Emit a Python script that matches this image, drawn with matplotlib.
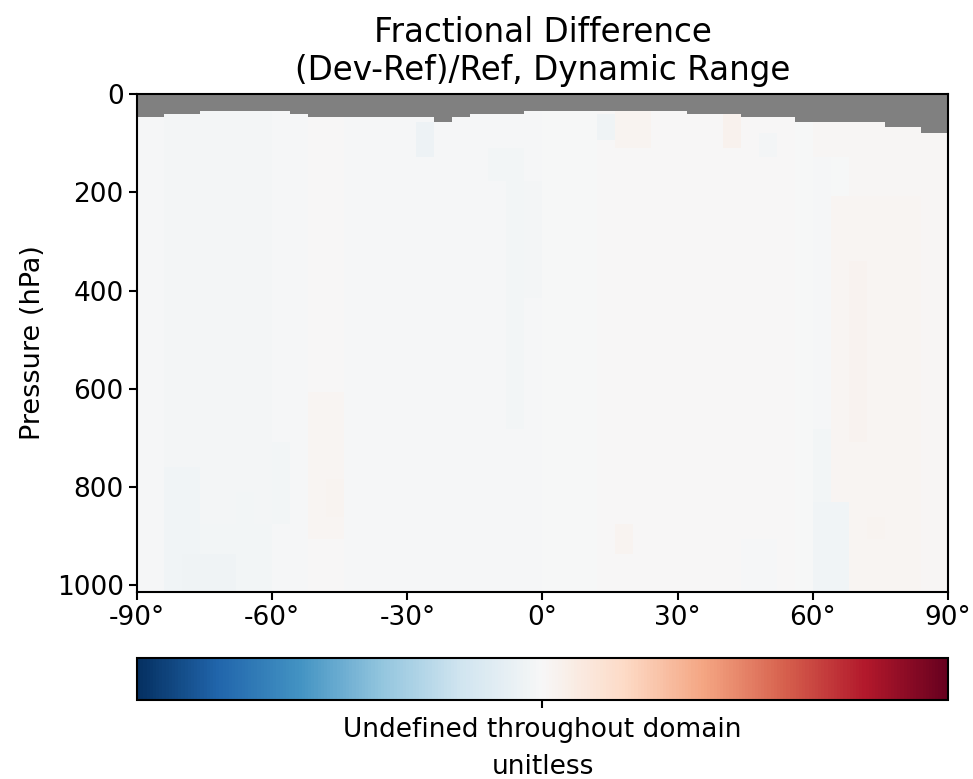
import numpy as np
import matplotlib
matplotlib.use("Agg")
import matplotlib.pyplot as plt
from matplotlib.colors import Normalize
from matplotlib.cm import ScalarMappable

# Latitude cell edges (4x5 grid, half-size polar cells)
lat_edges = [-90, -88, -84, -80, -76, -72, -68, -64, -60, -56, -52, -48,
             -44, -40, -36, -32, -28, -24, -20, -16, -12, -8, -4, 0, 4, 8,
             12, 16, 20, 24, 28, 32, 36, 40, 44, 48, 52, 56, 60, 64, 68, 72,
             76, 80, 84, 88, 90]

# Pressure level edges (hPa), surface to model top
p_edges = [1013.25, 998.05, 982.76, 967.47, 952.19, 936.91, 921.62, 906.34,
           891.05, 875.77, 860.49, 845.21, 829.92, 809.55, 784.08, 758.62,
           733.15, 707.69, 682.23, 644.04, 605.86, 567.70, 529.55, 491.41,
           453.29, 415.18, 377.08, 339.00, 288.83, 245.24, 208.49, 177.38,
           150.83, 128.23, 108.99, 92.58, 78.65, 66.60, 56.39, 47.64, 40.18,
           33.81, 28.37, 23.73, 19.79, 16.46, 13.64, 11.28, 9.29, 7.62, 6.22,
           5.05, 4.08, 3.28, 2.62, 2.08, 1.65, 1.30, 1.02, 0.80, 0.62, 0.48,
           0.37, 0.28, 0.21, 0.16, 0.12, 0.088, 0.065, 0.047, 0.033, 0.024,
           0.01]

# Highest valid pressure edge per latitude column (undefined above)
top_valid = [47.64, 47.64, 40.18, 40.18, 33.81, 33.81, 33.81, 33.81, 33.81,
             40.18, 47.64, 47.64, 47.64, 47.64, 47.64, 47.64, 47.64, 56.39,
             47.64, 40.18, 40.18, 40.18, 33.81, 33.81, 33.81, 33.81, 33.81,
             33.81, 33.81, 33.81, 33.81, 40.18, 40.18, 40.18, 47.64, 47.64,
             47.64, 56.39, 56.39, 56.39, 56.39, 56.39, 66.60, 66.60, 78.65,
             78.65]

# Background fractional difference per latitude column
col_base = [-0.015, -0.015, -0.02, -0.02, -0.02, -0.02, -0.02, -0.02,
            -0.015, -0.015, 0.0, 0.0, -0.01, -0.01, -0.01, -0.01, -0.01,
            -0.01, -0.01, -0.01, -0.01, -0.015, -0.01, -0.005, -0.005,
            -0.005, 0.0, 0.0, 0.0, 0.0, 0.0, 0.0, 0.0, 0.0, 0.0, 0.0, 0.0,
            -0.005, -0.01, -0.005, 0.015, 0.012, 0.01, 0.01, 0.008, 0.008]

# Local features: lat_lo, lat_hi, p_top, p_bottom, value
features = [
    (-84, -76, 760, 1014, -0.035),
    (-76, -60, 870, 1014, -0.03),
    (-80, -64, 937, 1014, -0.045),
    (-68, -64, 808, 1014, -0.03),
    (-60, -56, 706, 875, -0.025),
    (-52, -44, 606, 910, 0.02),
    (-48, -44, 784, 860, 0.03),
    (-28, -24, 56, 128, -0.05),
    (-32, -16, 128, 208, -0.015),
    (-12, -4, 108, 177, -0.03),
    (-8, -4, 177, 680, -0.03),
    (-4, 0, 177, 415, -0.02),
    (12, 16, 40, 92, -0.04),
    (16, 24, 34, 109, 0.025),
    (40, 44, 40, 108, 0.04),
    (48, 52, 73, 128, -0.02),
    (60, 68, 56, 128, 0.015),
    (64, 84, 208, 1014, 0.02),
    (68, 72, 345, 706, 0.035),
    (72, 76, 860, 910, 0.03),
    (60, 64, 685, 1014, -0.025),
    (60, 68, 830, 1014, -0.035),
    (44, 52, 906, 1014, -0.015),
    (16, 20, 876, 937, 0.025),
]

lat_e = np.array(lat_edges, dtype=float)
p_e = np.array(p_edges)
lat_c = 0.5 * (lat_e[:-1] + lat_e[1:])
p_c = 0.5 * (p_e[:-1] + p_e[1:])

field = np.tile(np.array(col_base), (len(p_c), 1))
for la0, la1, pt, pb, v in features:
    rows = (p_c > pt) & (p_c < pb)
    cols = (lat_c > la0) & (lat_c < la1)
    field[np.ix_(rows, cols)] = v
undefined = p_c[:, None] < np.array(top_valid)[None, :]
field = np.ma.masked_where(undefined, field)

fig = plt.figure(figsize=(9.73, 7.79), dpi=100)
ax = fig.add_axes([0.1408, 0.2401, 0.8335, 0.6392])
ax.set_facecolor("gray")
norm = Normalize(vmin=-1, vmax=1)
ax.pcolormesh(lat_e, p_e, field, cmap="RdBu_r", norm=norm, shading="flat")
ax.set_xlim(-90, 90)
ax.set_ylim(1013.25, 0)
ax.set_xticks([-90, -60, -30, 0, 30, 60, 90])
ax.set_xticklabels(["-90°", "-60°", "-30°", "0°", "30°", "60°", "90°"])
ax.set_yticks([0, 200, 400, 600, 800, 1000])
ax.tick_params(labelsize=19, width=1.5, length=6)
for s in ax.spines.values():
    s.set_linewidth(1.5)
ax.set_ylabel("Pressure (hPa)", fontsize=19.5, labelpad=8)
ax.set_title("Fractional Difference\n(Dev-Ref)/Ref, Dynamic Range",
             fontsize=23.5, pad=10)

cax = fig.add_axes([0.1408, 0.1014, 0.8335, 0.0539])
cb = fig.colorbar(ScalarMappable(norm=norm, cmap="RdBu_r"), cax=cax,
                  orientation="horizontal")
cb.set_ticks([0.0])
cb.set_ticklabels(["Undefined throughout domain"])
cb.set_label("unitless", fontsize=19, labelpad=8)
cax.tick_params(labelsize=19, width=1.5, length=6, pad=6)
cb.outline.set_linewidth(1.5)

fig.savefig("out.png", dpi=100)
